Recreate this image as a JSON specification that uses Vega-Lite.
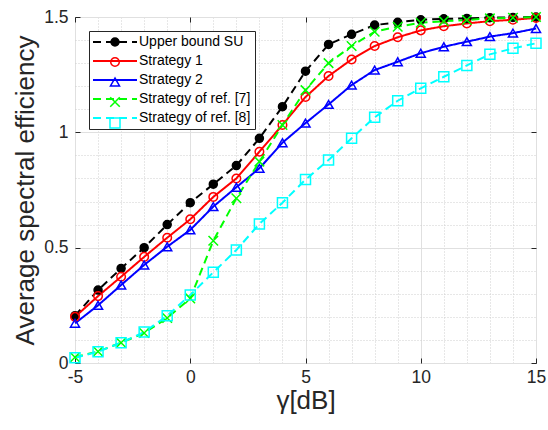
{
  "$schema": "https://vega.github.io/schema/vega-lite/v6.json",
  "width": 461,
  "height": 346,
  "autosize": "none",
  "padding": {"left": 75, "top": 17, "right": 12, "bottom": 67},
  "background": "white",
  "config": {
    "view": {"stroke": "#262626", "strokeWidth": 1},
    "font": "Liberation Sans",
    "axis": {
      "domain": false,
      "gridWidth": 1,
      "tickColor": "#262626",
      "tickSize": -5,
      "labelFlush": false,
      "labelFont": "Liberation Sans",
      "labelFontSize": 17.5,
      "labelColor": "#262626",
      "titleFont": "Liberation Sans",
      "titleFontSize": 26,
      "titleFontWeight": "normal",
      "titleColor": "#262626"
    }
  },
  "data": {
    "values": [
      {"gamma": -5, "se": 0.205, "series": "Upper bound SU"},
      {"gamma": -4, "se": 0.316, "series": "Upper bound SU"},
      {"gamma": -3, "se": 0.41, "series": "Upper bound SU"},
      {"gamma": -2, "se": 0.5, "series": "Upper bound SU"},
      {"gamma": -1, "se": 0.6, "series": "Upper bound SU"},
      {"gamma": 0, "se": 0.695, "series": "Upper bound SU"},
      {"gamma": 1, "se": 0.775, "series": "Upper bound SU"},
      {"gamma": 2, "se": 0.856, "series": "Upper bound SU"},
      {"gamma": 3, "se": 0.974, "series": "Upper bound SU"},
      {"gamma": 4, "se": 1.111, "series": "Upper bound SU"},
      {"gamma": 5, "se": 1.265, "series": "Upper bound SU"},
      {"gamma": 6, "se": 1.381, "series": "Upper bound SU"},
      {"gamma": 7, "se": 1.425, "series": "Upper bound SU"},
      {"gamma": 8, "se": 1.465, "series": "Upper bound SU"},
      {"gamma": 9, "se": 1.477, "series": "Upper bound SU"},
      {"gamma": 10, "se": 1.488, "series": "Upper bound SU"},
      {"gamma": 11, "se": 1.492, "series": "Upper bound SU"},
      {"gamma": 12, "se": 1.494, "series": "Upper bound SU"},
      {"gamma": 13, "se": 1.497, "series": "Upper bound SU"},
      {"gamma": 14, "se": 1.498, "series": "Upper bound SU"},
      {"gamma": 15, "se": 1.5, "series": "Upper bound SU"},
      {"gamma": -5, "se": 0.2, "series": "Strategy 1"},
      {"gamma": -4, "se": 0.29, "series": "Strategy 1"},
      {"gamma": -3, "se": 0.374, "series": "Strategy 1"},
      {"gamma": -2, "se": 0.46, "series": "Strategy 1"},
      {"gamma": -1, "se": 0.543, "series": "Strategy 1"},
      {"gamma": 0, "se": 0.623, "series": "Strategy 1"},
      {"gamma": 1, "se": 0.72, "series": "Strategy 1"},
      {"gamma": 2, "se": 0.8, "series": "Strategy 1"},
      {"gamma": 3, "se": 0.916, "series": "Strategy 1"},
      {"gamma": 4, "se": 1.032, "series": "Strategy 1"},
      {"gamma": 5, "se": 1.153, "series": "Strategy 1"},
      {"gamma": 6, "se": 1.244, "series": "Strategy 1"},
      {"gamma": 7, "se": 1.316, "series": "Strategy 1"},
      {"gamma": 8, "se": 1.374, "series": "Strategy 1"},
      {"gamma": 9, "se": 1.412, "series": "Strategy 1"},
      {"gamma": 10, "se": 1.442, "series": "Strategy 1"},
      {"gamma": 11, "se": 1.46, "series": "Strategy 1"},
      {"gamma": 12, "se": 1.472, "series": "Strategy 1"},
      {"gamma": 13, "se": 1.482, "series": "Strategy 1"},
      {"gamma": 14, "se": 1.488, "series": "Strategy 1"},
      {"gamma": 15, "se": 1.496, "series": "Strategy 1"},
      {"gamma": -5, "se": 0.172, "series": "Strategy 2"},
      {"gamma": -4, "se": 0.25, "series": "Strategy 2"},
      {"gamma": -3, "se": 0.338, "series": "Strategy 2"},
      {"gamma": -2, "se": 0.425, "series": "Strategy 2"},
      {"gamma": -1, "se": 0.504, "series": "Strategy 2"},
      {"gamma": 0, "se": 0.577, "series": "Strategy 2"},
      {"gamma": 1, "se": 0.678, "series": "Strategy 2"},
      {"gamma": 2, "se": 0.762, "series": "Strategy 2"},
      {"gamma": 3, "se": 0.844, "series": "Strategy 2"},
      {"gamma": 4, "se": 0.955, "series": "Strategy 2"},
      {"gamma": 5, "se": 1.04, "series": "Strategy 2"},
      {"gamma": 6, "se": 1.121, "series": "Strategy 2"},
      {"gamma": 7, "se": 1.205, "series": "Strategy 2"},
      {"gamma": 8, "se": 1.27, "series": "Strategy 2"},
      {"gamma": 9, "se": 1.306, "series": "Strategy 2"},
      {"gamma": 10, "se": 1.343, "series": "Strategy 2"},
      {"gamma": 11, "se": 1.371, "series": "Strategy 2"},
      {"gamma": 12, "se": 1.393, "series": "Strategy 2"},
      {"gamma": 13, "se": 1.415, "series": "Strategy 2"},
      {"gamma": 14, "se": 1.43, "series": "Strategy 2"},
      {"gamma": 15, "se": 1.45, "series": "Strategy 2"},
      {"gamma": -5, "se": 0.025, "series": "Strategy of ref. [7]"},
      {"gamma": -4, "se": 0.05, "series": "Strategy of ref. [7]"},
      {"gamma": -3, "se": 0.088, "series": "Strategy of ref. [7]"},
      {"gamma": -2, "se": 0.13, "series": "Strategy of ref. [7]"},
      {"gamma": -1, "se": 0.195, "series": "Strategy of ref. [7]"},
      {"gamma": 0, "se": 0.28, "series": "Strategy of ref. [7]"},
      {"gamma": 1, "se": 0.53, "series": "Strategy of ref. [7]"},
      {"gamma": 2, "se": 0.714, "series": "Strategy of ref. [7]"},
      {"gamma": 3, "se": 0.873, "series": "Strategy of ref. [7]"},
      {"gamma": 4, "se": 1.032, "series": "Strategy of ref. [7]"},
      {"gamma": 5, "se": 1.183, "series": "Strategy of ref. [7]"},
      {"gamma": 6, "se": 1.3, "series": "Strategy of ref. [7]"},
      {"gamma": 7, "se": 1.374, "series": "Strategy of ref. [7]"},
      {"gamma": 8, "se": 1.436, "series": "Strategy of ref. [7]"},
      {"gamma": 9, "se": 1.458, "series": "Strategy of ref. [7]"},
      {"gamma": 10, "se": 1.475, "series": "Strategy of ref. [7]"},
      {"gamma": 11, "se": 1.482, "series": "Strategy of ref. [7]"},
      {"gamma": 12, "se": 1.487, "series": "Strategy of ref. [7]"},
      {"gamma": 13, "se": 1.494, "series": "Strategy of ref. [7]"},
      {"gamma": 14, "se": 1.497, "series": "Strategy of ref. [7]"},
      {"gamma": 15, "se": 1.5, "series": "Strategy of ref. [7]"},
      {"gamma": -5, "se": 0.023, "series": "Strategy of ref. [8]"},
      {"gamma": -4, "se": 0.049, "series": "Strategy of ref. [8]"},
      {"gamma": -3, "se": 0.088, "series": "Strategy of ref. [8]"},
      {"gamma": -2, "se": 0.134, "series": "Strategy of ref. [8]"},
      {"gamma": -1, "se": 0.205, "series": "Strategy of ref. [8]"},
      {"gamma": 0, "se": 0.295, "series": "Strategy of ref. [8]"},
      {"gamma": 1, "se": 0.393, "series": "Strategy of ref. [8]"},
      {"gamma": 2, "se": 0.49, "series": "Strategy of ref. [8]"},
      {"gamma": 3, "se": 0.603, "series": "Strategy of ref. [8]"},
      {"gamma": 4, "se": 0.695, "series": "Strategy of ref. [8]"},
      {"gamma": 5, "se": 0.795, "series": "Strategy of ref. [8]"},
      {"gamma": 6, "se": 0.88, "series": "Strategy of ref. [8]"},
      {"gamma": 7, "se": 0.974, "series": "Strategy of ref. [8]"},
      {"gamma": 8, "se": 1.065, "series": "Strategy of ref. [8]"},
      {"gamma": 9, "se": 1.137, "series": "Strategy of ref. [8]"},
      {"gamma": 10, "se": 1.191, "series": "Strategy of ref. [8]"},
      {"gamma": 11, "se": 1.241, "series": "Strategy of ref. [8]"},
      {"gamma": 12, "se": 1.29, "series": "Strategy of ref. [8]"},
      {"gamma": 13, "se": 1.338, "series": "Strategy of ref. [8]"},
      {"gamma": 14, "se": 1.364, "series": "Strategy of ref. [8]"},
      {"gamma": 15, "se": 1.386, "series": "Strategy of ref. [8]"}
    ]
  },
  "resolve": {"axis": {"x": "independent", "y": "independent"}},
  "layer": [
    {
      "mark": {"type": "line", "strokeWidth": 2},
      "encoding": {
        "x": {
          "field": "gamma",
          "type": "quantitative",
          "scale": {"domain": [-5, 15], "nice": false, "zero": false},
          "axis": {
            "orient": "bottom",
            "title": "γ[dB]",
            "grid": true,
            "values": [-5, -4, -3, -2, -1, 0, 1, 2, 3, 4, 5, 6, 7, 8, 9, 10, 11, 12, 13, 14, 15],
            "labelExpr": "datum.value % 5 === 0 ? '' + datum.value : ''",
            "gridColor": {"condition": {"test": "datum.value % 5 === 0", "value": "#e0e0e0"}, "value": "#cfcfcf"},
            "gridDash": {"condition": {"test": "datum.value % 5 === 0", "value": []}, "value": [1, 2]},
            "tickOpacity": {"condition": {"test": "datum.value % 5 === 0", "value": 1}, "value": 0},
            "labelPadding": 10,
            "titlePadding": 2
          }
        },
        "y": {
          "field": "se",
          "type": "quantitative",
          "scale": {"domain": [0, 1.5], "nice": false},
          "axis": {
            "orient": "left",
            "title": "Average spectral efficiency",
            "grid": true,
            "values": [0, 0.1, 0.2, 0.3, 0.4, 0.5, 0.6, 0.7, 0.8, 0.9, 1, 1.1, 1.2, 1.3, 1.4, 1.5],
            "labelExpr": "abs(datum.value * 2 - round(datum.value * 2)) < 0.000001 ? '' + datum.value : ''",
            "gridColor": {"condition": {"test": "abs(datum.value * 2 - round(datum.value * 2)) < 0.000001", "value": "#e0e0e0"}, "value": "#cfcfcf"},
            "gridDash": {"condition": {"test": "abs(datum.value * 2 - round(datum.value * 2)) < 0.000001", "value": []}, "value": [1, 2]},
            "tickOpacity": {"condition": {"test": "abs(datum.value * 2 - round(datum.value * 2)) < 0.000001", "value": 1}, "value": 0},
            "labelPadding": 12,
            "titlePadding": 5
          }
        },
        "color": {
          "field": "series",
          "type": "nominal",
          "scale": {
            "domain": ["Upper bound SU", "Strategy 1", "Strategy 2", "Strategy of ref. [7]", "Strategy of ref. [8]"],
            "range": ["#000000", "#ff0000", "#0000ff", "#00ff00", "#00ffff"]
          },
          "legend": {
            "title": null,
            "orient": "none",
            "legendX": 14,
            "legendY": 14,
            "direction": "vertical",
            "symbolType": "M-5.5,0H5.5",
            "symbolSize": 64,
            "symbolStrokeWidth": 2,
            "symbolOffset": 15,
            "labelOffset": 17,
            "labelFont": "Liberation Sans",
            "labelFontSize": 14,
            "labelColor": "#000000",
            "labelLimit": 300,
            "padding": 4,
            "rowPadding": 5,
            "strokeColor": "#262626",
            "fillColor": "white"
          }
        },
        "strokeDash": {
          "field": "series",
          "type": "nominal",
          "scale": {
            "domain": ["Upper bound SU", "Strategy 1", "Strategy 2", "Strategy of ref. [7]", "Strategy of ref. [8]"],
            "range": [[8, 5], [1, 0], [1, 0], [8, 5], [8, 5]]
          },
          "legend": {
            "title": null,
            "orient": "none",
            "legendX": 14,
            "legendY": 14,
            "direction": "vertical",
            "symbolType": "M-5.5,0H5.5",
            "symbolSize": 64,
            "symbolStrokeWidth": 2,
            "symbolOffset": 15,
            "labelOffset": 17,
            "labelFont": "Liberation Sans",
            "labelFontSize": 14,
            "labelColor": "#000000",
            "labelLimit": 300,
            "padding": 4,
            "rowPadding": 5,
            "strokeColor": "#262626",
            "fillColor": "white"
          }
        }
      }
    },
    {
      "mark": {"type": "point", "strokeWidth": 1.5, "opacity": 1},
      "encoding": {
        "x": {
          "field": "gamma",
          "type": "quantitative",
          "axis": {
            "orient": "top",
            "title": null,
            "grid": false,
            "labels": false,
            "values": [-5, 0, 5, 10, 15]
          }
        },
        "y": {
          "field": "se",
          "type": "quantitative",
          "axis": {
            "orient": "right",
            "title": null,
            "grid": false,
            "labels": false,
            "values": [0, 0.5, 1, 1.5]
          }
        },
        "stroke": {
          "field": "series",
          "type": "nominal",
          "sort": {"field": "se", "op": "sum", "order": "descending"},
          "scale": {"range": ["#000000", "#ff0000", "#0000ff", "#00ff00", "#00ffff"]},
          "legend": {
            "title": null,
            "orient": "none",
            "legendX": 14,
            "legendY": 14,
            "direction": "vertical",
            "symbolStrokeWidth": 1.5,
            "symbolFillColor": "transparent",
            "symbolOffset": 15,
            "labelOffset": 17,
            "labelExpr": "''",
            "labelFont": "Liberation Sans",
            "labelFontSize": 14,
            "labelLimit": 300,
            "padding": 4,
            "rowPadding": 5
          }
        },
        "fill": {
          "field": "series",
          "type": "nominal",
          "sort": {"field": "se", "op": "sum", "order": "descending"},
          "scale": {"range": ["#000000", "transparent", "transparent", "#00ff00", "transparent"]},
          "legend": {
            "title": null,
            "orient": "none",
            "legendX": 14,
            "legendY": 14,
            "direction": "vertical",
            "symbolStrokeWidth": 1.5,
            "symbolFillColor": "transparent",
            "symbolOffset": 15,
            "labelOffset": 17,
            "labelExpr": "''",
            "labelFont": "Liberation Sans",
            "labelFontSize": 14,
            "labelLimit": 300,
            "padding": 4,
            "rowPadding": 5
          }
        },
        "size": {
          "field": "series",
          "type": "nominal",
          "sort": {"field": "se", "op": "sum", "order": "descending"},
          "scale": {"range": [64, 100, 170, 40, 64]},
          "legend": {
            "title": null,
            "orient": "none",
            "legendX": 14,
            "legendY": 14,
            "direction": "vertical",
            "symbolStrokeWidth": 1.5,
            "symbolFillColor": "transparent",
            "symbolOffset": 15,
            "labelOffset": 17,
            "labelExpr": "''",
            "labelFont": "Liberation Sans",
            "labelFontSize": 14,
            "labelLimit": 300,
            "padding": 4,
            "rowPadding": 5
          }
        },
        "shape": {
          "field": "series",
          "type": "nominal",
          "sort": {"field": "se", "op": "sum", "order": "descending"},
          "scale": {"range": ["circle", "circle", "triangle-up", "M-1,-1L1,1M1,-1L-1,1", "square"]},
          "legend": {
            "title": null,
            "orient": "none",
            "legendX": 14,
            "legendY": 14,
            "direction": "vertical",
            "symbolStrokeWidth": 1.5,
            "symbolFillColor": "transparent",
            "symbolOffset": 15,
            "labelOffset": 17,
            "labelExpr": "''",
            "labelFont": "Liberation Sans",
            "labelFontSize": 14,
            "labelLimit": 300,
            "padding": 4,
            "rowPadding": 5
          }
        }
      }
    }
  ]
}
